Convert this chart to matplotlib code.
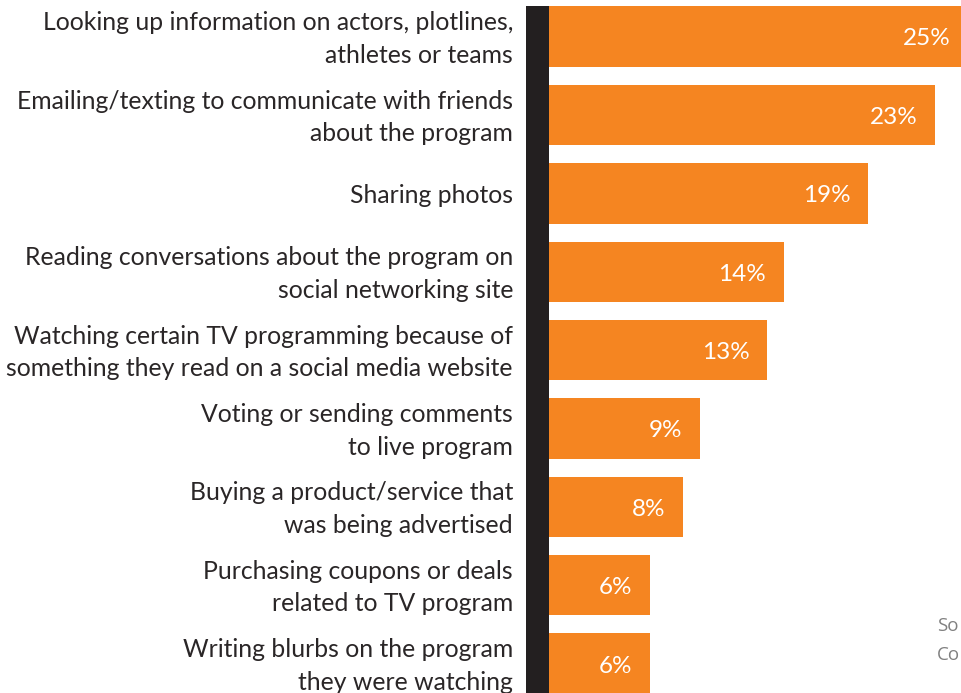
import matplotlib
matplotlib.use("Agg")
import matplotlib.pyplot as plt
from matplotlib import patches, transforms

# activities and share of viewers
labels = [
    "Looking up information on actors, plotlines,\nathletes or teams",
    "Emailing/texting to communicate with friends\nabout the program",
    "Sharing photos",
    "Reading conversations about the program on\nsocial networking site",
    "Watching certain TV programming because of\nsomething they read on a social media website",
    "Voting or sending comments\nto live program",
    "Buying a product/service that\nwas being advertised",
    "Purchasing coupons or deals\nrelated to TV program",
    "Writing blurbs on the program\nthey were watching",
]
values = [25, 23, 19, 14, 13, 9, 8, 6, 6]
source_lines = ["So", "Co"]

ORANGE = "#F58521"
DARK = "#231F20"

W, H = 961, 693
fig = plt.figure(figsize=(W / 100, H / 100), dpi=100)

# axes for the bars start right after the dark spine
x0 = 549 / W
ax = fig.add_axes([x0, 0, 1 - x0, 1])
ypos = list(range(len(values)))
ax.barh(ypos, values, height=0.77, color=ORANGE, edgecolor="none")
ax.set_xlim(0, 24.52)
ax.set_ylim(8.374, -0.466)
ax.axis("off")

for y, v in zip(ypos, values):
    ax.text(v - 1.07, y + 0.03, f"{v}%", ha="right", va="center", color="white",
            fontsize=17.5, fontfamily="Lato")

# category labels, right aligned at a fixed figure position
trans = transforms.blended_transform_factory(fig.transFigure, ax.transData)
for y, lab in zip(ypos, labels):
    ax.text(513 / W, y + 0.03, lab, transform=trans, ha="right", va="center",
            multialignment="right", fontsize=17.8, color="#2a2627",
            fontfamily="Lato", linespacing=1.5, clip_on=False)

# dark vertical band
fig.patches.append(patches.Rectangle((526 / W, 0), 23 / W, 1 - 6 / H,
                                     transform=fig.transFigure,
                                     facecolor=DARK, edgecolor="none"))

# source note, cut by the right edge in the original
for i, s in enumerate(source_lines):
    fig.text(937 / W, 1 - (626 + 29 * i) / H, s, ha="left", va="center",
             fontsize=13.5, color="#808080", fontfamily="Open Sans")

fig.savefig("out.png", dpi=100)
